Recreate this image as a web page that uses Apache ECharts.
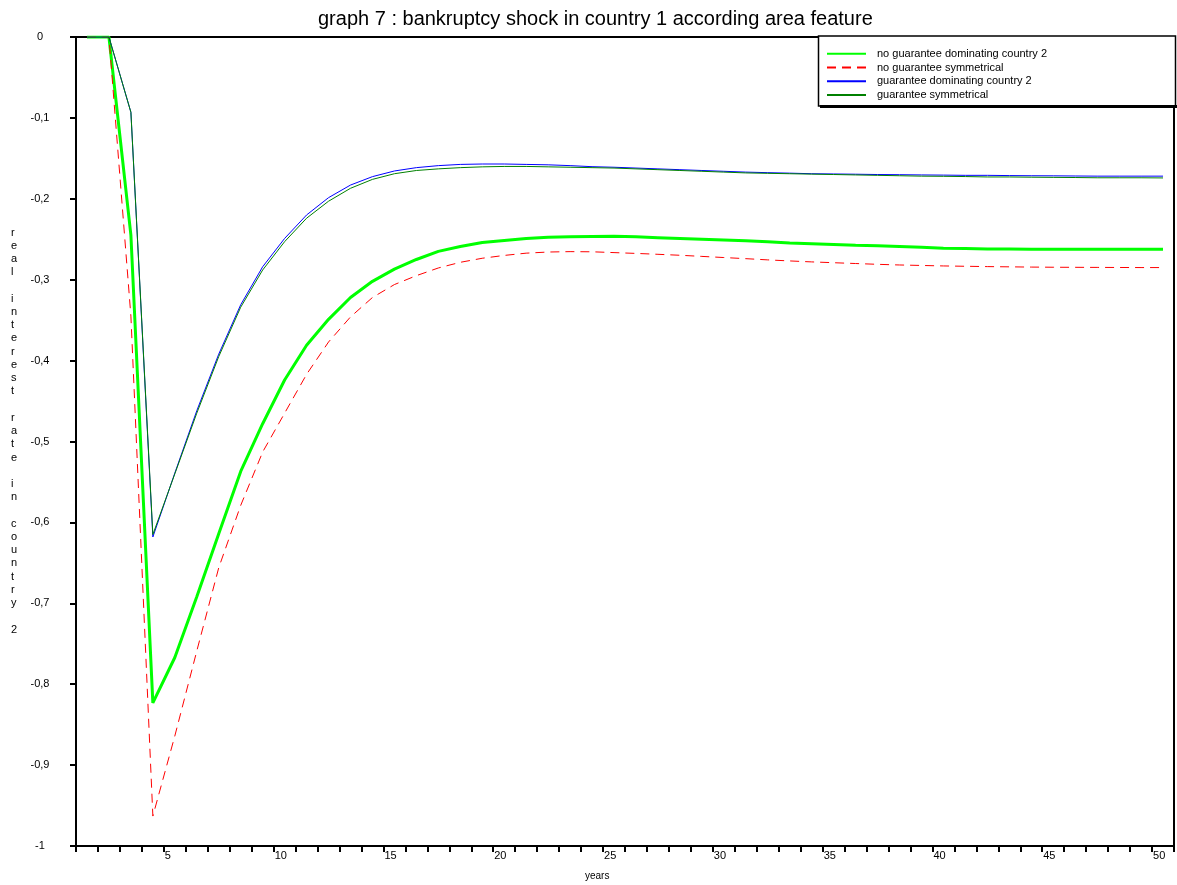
<!DOCTYPE html>
<html>
<head>
<meta charset="utf-8">
<script src="https://cdn.jsdelivr.net/npm/echarts@6/dist/echarts.min.js"></script>
<style>
html,body{margin:0;padding:0;background:#fff;}
#chart{width:1177px;height:885px;}
</style>
</head>
<body>
<div id="chart"></div>
<script>
// Periods 1..50 (each plotted at the centre of its year band)
const periods = Array.from({length: 50}, (_, i) => i + 1);
const seriesNames = [
  'no guarantee dominating country 2',
  'no guarantee symmetrical',
  'guarantee dominating country 2',
  'guarantee symmetrical'
];
const noGuaranteeDominating = [0, 0, -0.245,
  -0.823, -0.767, -0.692, -0.614, -0.537, -0.478, -0.424, -0.381, -0.349, -0.322,
  -0.302, -0.287, -0.275, -0.265, -0.259, -0.254, -0.2515, -0.249, -0.2475, -0.2468,
  -0.2465, -0.2464, -0.247, -0.248, -0.249, -0.250, -0.251, -0.252, -0.253, -0.2545,
  -0.2555, -0.2565, -0.2575, -0.258, -0.259, -0.260, -0.261, -0.2615, -0.262, -0.2622,
  -0.2625, -0.2625, -0.2625, -0.2625, -0.2625, -0.2625, -0.2625];
const noGuaranteeSymmetrical = [0, 0, -0.345,
  -0.963, -0.864, -0.759, -0.656, -0.579, -0.513, -0.465, -0.417, -0.377, -0.346,
  -0.322, -0.306, -0.295, -0.2855, -0.2785, -0.2735, -0.270, -0.2672, -0.2658, -0.2653,
  -0.2655, -0.2665, -0.2675, -0.2686, -0.2698, -0.2712, -0.2726, -0.274, -0.2755, -0.2768,
  -0.278, -0.279, -0.280, -0.281, -0.2818, -0.2824, -0.283, -0.2834, -0.2838, -0.2841,
  -0.2844, -0.2846, -0.2847, -0.2848, -0.2849, -0.285, -0.285];
const guaranteeDominating = [0, 0, -0.093,
  -0.618, -0.539, -0.462, -0.392, -0.331, -0.284, -0.249, -0.220, -0.1986, -0.183,
  -0.1726, -0.1656, -0.1615, -0.159, -0.1575, -0.157, -0.157, -0.1575, -0.158, -0.159,
  -0.1603, -0.161, -0.162, -0.163, -0.164, -0.165, -0.166, -0.167, -0.1677, -0.1683,
  -0.169, -0.1693, -0.1696, -0.170, -0.1702, -0.1705, -0.1707, -0.171, -0.171, -0.1713,
  -0.1715, -0.1716, -0.1718, -0.172, -0.172, -0.172, -0.172];
const guaranteeSymmetrical = [0, 0, -0.093,
  -0.615, -0.540, -0.465, -0.395, -0.334, -0.288, -0.253, -0.224, -0.203, -0.187,
  -0.176, -0.169, -0.165, -0.163, -0.1615, -0.1605, -0.160, -0.160, -0.1605, -0.161,
  -0.1615, -0.162, -0.163, -0.164, -0.165, -0.166, -0.167, -0.168, -0.1685, -0.169,
  -0.1695, -0.170, -0.1705, -0.171, -0.1715, -0.172, -0.1722, -0.1725, -0.173, -0.173,
  -0.1733, -0.1735, -0.1737, -0.174, -0.174, -0.174, -0.1742];
const xTickLabels = [5, 10, 15, 20, 25, 30, 35, 40, 45, 50];
const titleText = 'graph 7 : bankruptcy shock in country 1 according area feature';
const yAxisTitle = 'real interest rate in country 2';
const xAxisTitle = 'years';

const FONT = '"Liberation Sans", Arial, sans-serif';
function pairs(vals) { return periods.map((p, i) => [p + 0.5, vals[i]]); }

const chart = echarts.init(document.getElementById('chart'), null, {renderer: 'canvas'});
const option = {
  animation: false,
  backgroundColor: '#fff',
  textStyle: {fontFamily: FONT},
  title: {
    text: titleText, left: 313, top: 4,
    textStyle: {fontFamily: FONT, fontSize: 20, fontWeight: 'normal', color: '#000'}
  },
  grid: {left: 76, top: 37, right: 0, bottom: 39, show: true, borderColor: '#000', borderWidth: 2},
  xAxis: {
    type: 'value', min: 1, max: 51, interval: 1,
    axisLine: {show: true, onZero: false, lineStyle: {color: '#000', width: 2}},
    axisTick: {show: true, length: 6, lineStyle: {color: '#000', width: 2}},
    splitLine: {show: false},
    axisLabel: {
      show: true, margin: 4, align: 'left', padding: [0, 0, 0, 1],
      fontFamily: FONT, fontSize: 11, color: '#000',
      formatter: v => xTickLabels.indexOf(v) >= 0 ? String(v) : ''
    }
  },
  yAxis: {
    type: 'value', min: -1, max: 0, interval: 0.1,
    axisLine: {show: true, lineStyle: {color: '#000', width: 2}},
    axisTick: {show: true, length: 6, lineStyle: {color: '#000', width: 2}},
    splitLine: {show: false},
    axisLabel: {
      margin: 36, align: 'center', fontFamily: FONT, fontSize: 11, color: '#000',
      formatter: v => {
        const r = Math.round(v * 10) / 10;
        if (r === 0) return '0';
        if (r === -1) return '-1';
        return r.toFixed(1).replace('.', ',');
      }
    }
  },
  legend: {
    orient: 'vertical', left: 826, top: 47, padding: 0, itemGap: 0,
    itemWidth: 39, itemHeight: 10,
    data: seriesNames,
    itemStyle: {opacity: 0},
    textStyle: {fontFamily: FONT, fontSize: 11, color: '#000', lineHeight: 13.7, padding: [0, 0, 0, 6]},
    z: 10
  },
  graphic: [
    {type: 'rect', z: 5, shape: {x: 818.5, y: 36, width: 357, height: 70},
     style: {fill: '#fff', stroke: '#000', lineWidth: 1.5}},
    {type: 'rect', z: 5, shape: {x: 820, y: 105, width: 357, height: 3}, style: {fill: '#000'}},
    {type: 'text', z: 5, left: 11, top: 226,
     style: {text: yAxisTitle.split('').join('\n'), font: '11px ' + FONT, lineHeight: 13.23,
       fill: '#000', align: 'center', width: 12}},
    {type: 'text', z: 5, left: 585, top: 871,
     style: {text: xAxisTitle, font: '10px ' + FONT, fill: '#000'}}
  ],
  series: [
    {name: seriesNames[0], type: 'line', data: pairs(noGuaranteeDominating), symbol: 'none',
     lineStyle: {color: '#00ff00', width: 3}, itemStyle: {color: '#00ff00'}, z: 2},
    {name: seriesNames[1], type: 'line', data: pairs(noGuaranteeSymmetrical), symbol: 'none',
     lineStyle: {color: '#ff0000', width: 1, type: [9, 6]}, itemStyle: {color: '#ff0000'}, z: 3},
    {name: seriesNames[2], type: 'line', data: pairs(guaranteeDominating), symbol: 'none',
     lineStyle: {color: '#0000ff', width: 1}, itemStyle: {color: '#0000ff'}, z: 3},
    {name: seriesNames[3], type: 'line', data: pairs(guaranteeSymmetrical), symbol: 'none',
     lineStyle: {color: '#008000', width: 1}, itemStyle: {color: '#008000'}, z: 4}
  ]
};
chart.setOption(option);
</script>
</body>
</html>
